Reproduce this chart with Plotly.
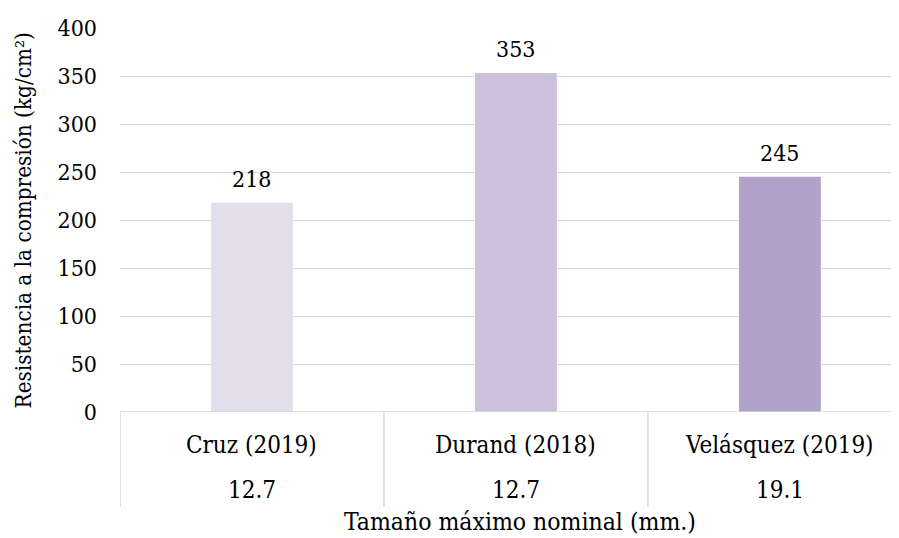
import plotly.graph_objects as go

authors = ["Cruz (2019)", "Durand (2018)", "Velásquez (2019)"]
sizes = ["12.7", "12.7", "19.1"]
strength = [218, 353, 245]
colors = ["#E4DFEC", "#CBC1DC", "#B1A2C9"]
y_ticks = [0, 50, 100, 150, 200, 250, 300, 350, 400]

FONT = "DejaVu Serif Condensed, DejaVu Serif"
FS = 23
FS_CAT = 24
FS_XT = 24.5
FS_YT = 22.3
TXT = "#000000"
GRID = "#D9D9D9"

xs = list(range(len(authors)))

fig = go.Figure()
fig.add_trace(go.Bar(
    x=xs, y=strength, width=0.31,
    marker=dict(color=colors, line=dict(width=0)),
    showlegend=False, hoverinfo="skip",
))

annotations = []
for i, v in enumerate(strength):
    annotations.append(dict(x=i, y=v, xref="x", yref="y", text=str(v),
                            showarrow=False, yanchor="bottom", yshift=9,
                            font=dict(family=FONT, size=FS, color=TXT)))
for i, (a, s) in enumerate(zip(authors, sizes)):
    annotations.append(dict(x=i, y=-0.086, xref="x", yref="paper", text=a,
                            showarrow=False, yanchor="middle",
                            font=dict(family=FONT, size=FS_CAT, color=TXT)))
    annotations.append(dict(x=i, y=-0.203, xref="x", yref="paper", text=s,
                            showarrow=False, yanchor="middle",
                            font=dict(family=FONT, size=FS_CAT, color=TXT)))
annotations.append(dict(x=0.513, y=-0.286, xref="paper", yref="paper",
                        text="Tamaño máximo nominal (mm.)", showarrow=False,
                        yanchor="middle", xanchor="center",
                        font=dict(family=FONT, size=FS_XT, color=TXT)))
annotations.append(dict(x=-0.124, y=0.5, xref="paper", yref="paper",
                        text="Resistencia a la compresión (kg/cm²)", textangle=-90,
                        showarrow=False, xanchor="center", yanchor="middle",
                        font=dict(family=FONT, size=FS_YT, color=TXT)))

shapes = [dict(type="line", xref="paper", yref="y", x0=0, x1=1, y0=0, y1=0,
               line=dict(color=GRID, width=1.5))]
for b in [-0.5, 0.5, 1.5]:
    shapes.append(dict(type="line", xref="x", yref="paper", x0=b, x1=b,
                       y0=0, y1=-0.247, line=dict(color=GRID, width=1.5)))

fig.update_layout(
    width=891, height=530,
    margin=dict(l=112, r=0, t=20, b=126),
    paper_bgcolor="white", plot_bgcolor="white",
    font=dict(family=FONT, size=FS, color=TXT),
    xaxis=dict(range=[-0.5, 2.451], showticklabels=False, showgrid=False,
               zeroline=False, showline=False, fixedrange=True),
    yaxis=dict(range=[0, 400], tickvals=y_ticks, showgrid=True, gridcolor=GRID,
               gridwidth=1, zeroline=False, showline=False,
               ticklabelstandoff=22,
               tickfont=dict(family=FONT, size=FS, color=TXT)),
    annotations=annotations, shapes=shapes,
)

fig.write_html("out.html")
